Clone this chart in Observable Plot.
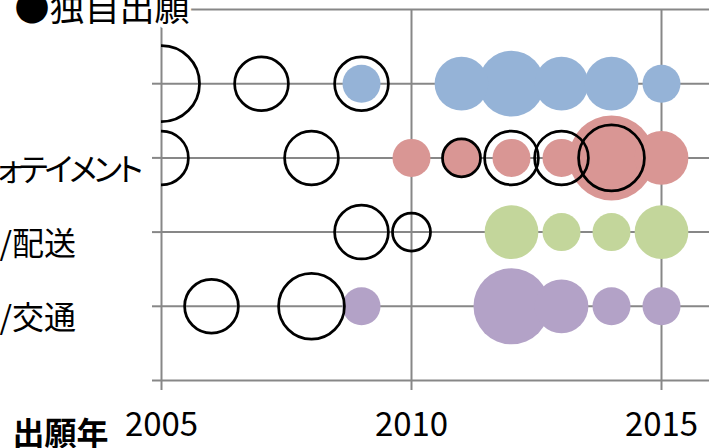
<!DOCTYPE html>
<html>
<head>
<meta charset="utf-8">
<script src="https://cdn.jsdelivr.net/npm/d3@7"></script>
<script src="https://cdn.jsdelivr.net/npm/@observablehq/plot@0.6"></script>
<style>
  html, body { margin: 0; padding: 0; overflow: hidden; background: #fff; }
  #chart svg { max-width: none !important; display: block; }
</style>
</head>
<body>
<div id="chart"></div>
<script>
// Row labels (top to bottom) and their bubble colours
const rowLabels = ["", "インフォテイメント", "物流/配送", "運輸/交通"];
const rowColors = ["#95b3d7", "#d99694", "#c3d69b", "#b3a2c7"];

// Filled bubbles: row index, filing year, number of filings
const filledRow   = [0, 0, 0, 0, 0, 0, 1, 1, 1, 1, 1, 1, 2, 2, 2, 2, 3, 3, 3, 3, 3];
const filledYear  = [2009, 2011, 2012, 2013, 2014, 2015, 2010, 2011, 2012, 2013, 2014, 2015, 2012, 2013, 2014, 2015, 2009, 2012, 2013, 2014, 2015];
const filledCount = [1, 2, 3, 2, 2, 1, 1, 1, 1, 1, 5, 2, 2, 1, 1, 2, 1, 4, 2, 1, 1];

// Outlined bubbles (独自出願): row index, filing year, number of filings
const openRow   = [0, 0, 0, 1, 1, 1, 1, 1, 1, 2, 2, 3, 3];
const openYear  = [2005, 2007, 2009, 2005, 2008, 2011, 2012, 2013, 2014, 2009, 2010, 2006, 2008];
const openCount = [4, 2, 2, 2, 2, 1, 2, 2, 3, 2, 1, 2, 3];

// Axis ticks
const yearTicks = [2005, 2010, 2015];
const title = "●独自出願";
const xTitle = "出願年";

const filled = filledYear.map((year, i) => ({row: filledRow[i], year, count: filledCount[i]}));
const open = openYear.map((year, i) => ({row: openRow[i], year, count: openCount[i]}));
const rows = rowLabels.map((label, i) => ({row: i, label}));
const rowY = d => rowLabels.length - d.row;

const gray = "#878787";
const font = "'Noto Sans CJK JP', 'Noto Sans', sans-serif";

const chart = Plot.plot({
  width: 761,
  height: 448,
  marginLeft: 161,
  marginRight: 0,
  marginTop: 9,
  marginBottom: 68,
  style: {fontFamily: font, background: "#fff", overflow: "visible"},
  x: {domain: [2005, 2017], label: null},
  y: {domain: [0, rowLabels.length + 1], label: null},
  r: {type: "sqrt", domain: [0, 5], range: [0, 42.5]},
  color: {type: "ordinal", domain: d3.range(rowLabels.length), range: rowColors},
  marks: [
    Plot.gridY({ticks: d3.range(0, rowLabels.length + 2), stroke: gray, strokeOpacity: 1, strokeWidth: 2}),
    Plot.gridX({ticks: yearTicks, stroke: gray, strokeOpacity: 1, strokeWidth: 2}),
    Plot.axisY({ticks: d3.range(0, rowLabels.length + 1), tickSize: 9, tickFormat: () => "", label: null, stroke: gray, strokeWidth: 2}),
    Plot.axisX({ticks: yearTicks, tickSize: 10, tickFormat: () => "", label: null, stroke: gray, strokeWidth: 2}),
    Plot.axisX({ticks: yearTicks, tickSize: 0, tickPadding: 32, tickFormat: d => String(d), label: null, fontSize: 33, fill: "#000", lineAnchor: "top"}),
    Plot.dot(filled, {x: "year", y: rowY, r: "count", fill: "row", clip: true}),
    Plot.dot(open, {x: "year", y: rowY, r: "count", stroke: "#000", strokeWidth: 2.75, fill: "none", clip: true}),
    Plot.text(rows, {y: rowY, text: "label", frameAnchor: "left", textAnchor: "start", lineAnchor: "bottom", dx: -226, dy: 23, fontSize: 32, fill: "#000"}),
    Plot.text([xTitle], {frameAnchor: "bottom-left", textAnchor: "start", lineAnchor: "bottom", dx: -149, dy: 64, fontSize: 32, fontWeight: "bold", fill: "#000"}),
    Plot.text([title], {frameAnchor: "top-left", textAnchor: "start", lineAnchor: "bottom", dx: -147, dy: 11, fontSize: 35, fill: "#000", stroke: "#fff", strokeWidth: 8, paintOrder: "stroke"})
  ]
});

// Katakana-only labels use proportional, tighter kana
d3.select(chart).selectAll("text")
  .filter(function() { return /^[\u30A0-\u30FF]+$/.test(this.textContent); })
  .style("font-feature-settings", "\"palt\"")
  .attr("letter-spacing", -3.5)
  .attr("dx", -10);

document.getElementById("chart").append(chart);
</script>
</body>
</html>
